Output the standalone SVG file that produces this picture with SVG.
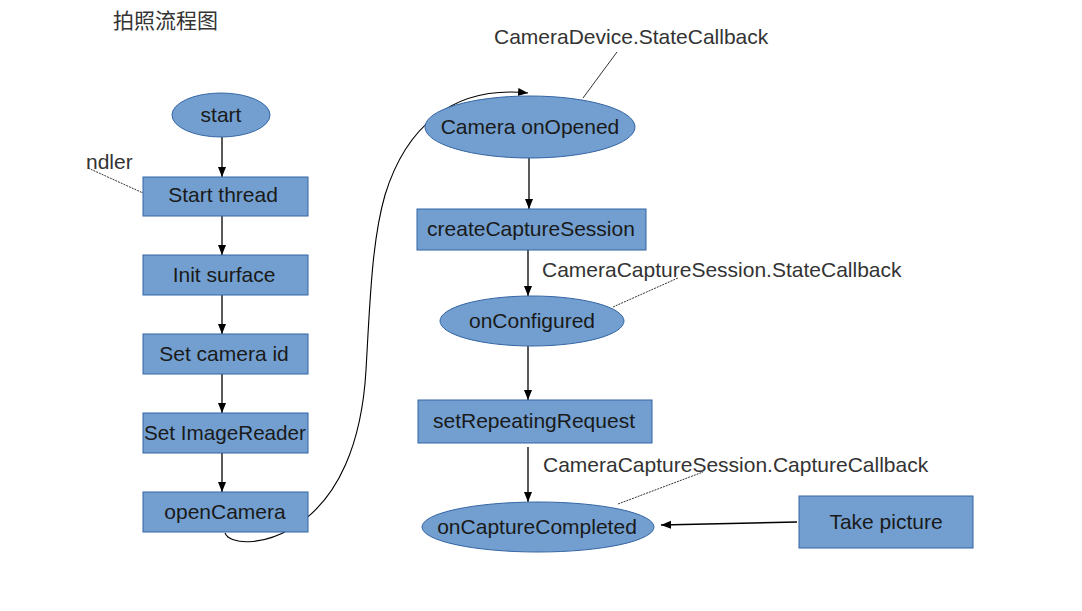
<svg xmlns="http://www.w3.org/2000/svg" width="1082" height="611" viewBox="0 0 1082 611">
<defs>
<style>
.n{fill:#729fcf;stroke:#3465a4;stroke-width:1}
.t{font-family:"Liberation Sans",Arial,sans-serif;font-size:21px;fill:#1a1a1a;text-anchor:middle}
.lbl{font-family:"Liberation Sans",Arial,sans-serif;font-size:21px;fill:#333}
.e{stroke:#000;stroke-width:1.3;fill:none;marker-end:url(#ah)}
.c{stroke:#333;stroke-width:1;fill:none}
.d{stroke:#333;stroke-width:1;fill:none;stroke-dasharray:2,1}
</style>
<marker id="ah" markerWidth="10" markerHeight="10" refX="10" refY="4" orient="auto" markerUnits="userSpaceOnUse">
<path d="M0,0 L10,4 L0,8 z" fill="#000"/>
</marker>
</defs>
<rect width="1082" height="611" fill="#fff"/>
<text x="113" y="28" style="font-family:'Noto Sans CJK SC','Noto Sans',sans-serif;font-size:21px;fill:#333">拍照流程图</text>

<g id="connectors">
<path class="e" d="M222,137 V177"/>
<path class="e" d="M222,216 V255"/>
<path class="e" d="M222,295 V334"/>
<path class="e" d="M222,374 V413"/>
<path class="e" d="M222,453 V492"/>
<path class="e" d="M225,533 C230,545 262,546 292,528 C340,500 362,440 366,370 C370,300 372,240 385,195 C405,130 450,85 528,93" style="stroke-width:1.1"/>
<path class="e" d="M529,158 V209"/>
<path class="e" d="M528,250 V296"/>
<path class="e" d="M528,346 V400"/>
<path class="e" d="M528,447 V502"/>
<path class="e" d="M797,522 L661,525"/>
<path class="d" d="M88,168 L143,193"/>
<path class="c" d="M617,52 L583,98"/>
<path class="d" d="M613,307 L678,278"/>
<path class="d" d="M618,504 L703,472"/>
</g>

<g id="label-handler"><text class="lbl" x="86" y="169">ndler</text></g>
<g id="label-device"><text class="lbl" x="494" y="44">CameraDevice.StateCallback</text></g>
<g id="label-session"><text class="lbl" x="542" y="277">CameraCaptureSession.StateCallback</text></g>
<g id="label-capture"><text class="lbl" x="543" y="472">CameraCaptureSession.CaptureCallback</text></g>

<g id="start"><ellipse class="n" cx="221" cy="115" rx="49" ry="22"/><text class="t" x="221" y="122">start</text></g>
<g id="start-thread"><rect class="n" x="143" y="177" width="165" height="39"/><text class="t" x="223" y="202">Start thread</text></g>
<g id="init-surface"><rect class="n" x="143" y="255" width="165" height="40"/><text class="t" x="224" y="282">Init surface</text></g>
<g id="set-camera-id"><rect class="n" x="143" y="334" width="165" height="40"/><text class="t" x="224" y="361">Set camera id</text></g>
<g id="set-imagereader"><rect class="n" x="143" y="413" width="165" height="40"/><text class="t" x="225" y="440" textLength="162" lengthAdjust="spacingAndGlyphs">Set ImageReader</text></g>
<g id="open-camera"><rect class="n" x="143" y="492" width="165" height="40"/><text class="t" x="225" y="519">openCamera</text></g>

<g id="camera-onopened"><ellipse class="n" cx="530" cy="127" rx="105" ry="31"/><text class="t" x="530" y="134">Camera onOpened</text></g>
<g id="create-capture-session"><rect class="n" x="417" y="209" width="229" height="41"/><text class="t" x="531" y="236">createCaptureSession</text></g>
<g id="on-configured"><ellipse class="n" cx="532" cy="321" rx="92" ry="25"/><text class="t" x="532" y="328">onConfigured</text></g>
<g id="set-repeating-request"><rect class="n" x="418" y="400" width="234" height="43"/><text class="t" x="534" y="428">setRepeatingRequest</text></g>
<g id="on-capture-completed"><ellipse class="n" cx="538" cy="527" rx="116" ry="25"/><text class="t" x="537" y="534">onCaptureCompleted</text></g>
<g id="take-picture"><rect class="n" x="799" y="496" width="174" height="52"/><text class="t" x="886" y="529">Take picture</text></g>
</svg>
